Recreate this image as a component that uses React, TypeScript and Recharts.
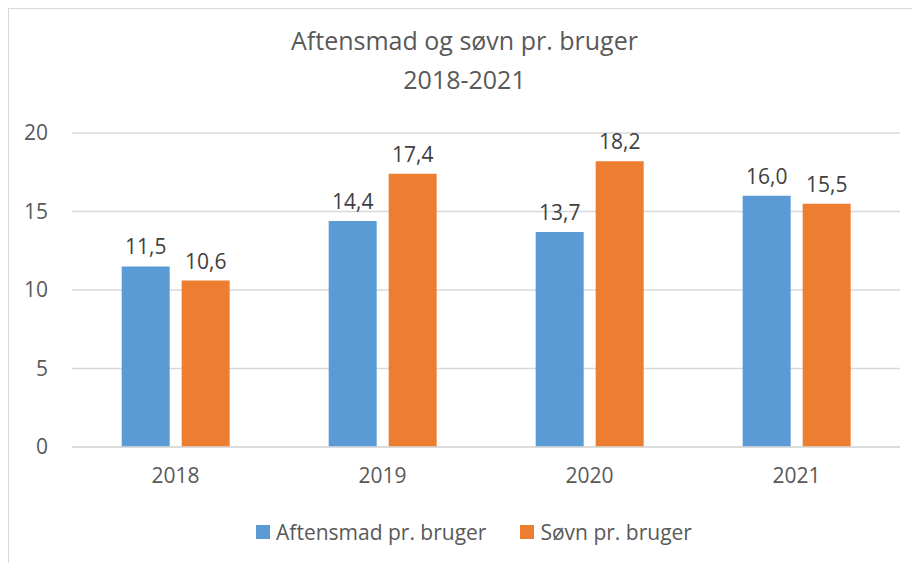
import { BarChart, Bar, XAxis, YAxis, CartesianGrid, Legend, LabelList } from "recharts";

const years = ["2018", "2019", "2020", "2021"];
const aftensmad = [11.5, 14.4, 13.7, 16.0];
const soevn = [10.6, 17.4, 18.2, 15.5];
const yTicks = [0, 5, 10, 15, 20];

const BLUE = "#5B9BD5";
const ORANGE = "#ED7D31";
const TEXT = "#595959";
const FONT = "'Open Sans', sans-serif";

const data = years.map((y, i) => ({ year: y, aftensmad: aftensmad[i], soevn: soevn[i] }));

const fmt = (v: number) => v.toFixed(1).replace(".", ",");

const legendItems = [
  { label: "Aftensmad pr. bruger", color: BLUE },
  { label: "Søvn pr. bruger", color: ORANGE },
];

function LegendContent() {
  return (
    <div
      style={{
        display: "flex",
        justifyContent: "center",
        gap: 34,
        marginTop: 11,
        paddingLeft: 36,
        fontFamily: FONT,
        fontSize: 21,
        color: TEXT,
      }}
    >
      {legendItems.map((it) => (
        <div key={it.label} style={{ display: "flex", alignItems: "center" }}>
          <span style={{ width: 14, height: 14, background: it.color, marginRight: 6, display: "inline-block" }} />
          <span>{it.label}</span>
        </div>
      ))}
    </div>
  );
}

export default function App() {
  return (
    <div
      style={{
        position: "relative",
        width: 911,
        height: 554,
        borderLeft: "1px solid #d9d9d9",
        borderTop: "1px solid #d9d9d9",
        background: "#fff",
        fontFamily: FONT,
      }}
    >
      <div
        style={{
          position: "absolute",
          top: 12,
          left: 0,
          width: 911,
          textAlign: "center",
          color: TEXT,
          fontSize: 25,
          lineHeight: "39px",
        }}
      >
        Aftensmad og søvn pr. bruger
        <br />
        2018-2021
      </div>
      <BarChart
        width={911}
        height={554}
        data={data}
        margin={{ top: 124, right: 20, left: 3, bottom: 0 }}
        barCategoryGap="24%"
        barGap={12}
      >
        <CartesianGrid vertical={false} stroke="#d9d9d9" strokeWidth={1.5} />
        <XAxis
          dataKey="year"
          axisLine={{ stroke: "#d9d9d9", strokeWidth: 1.5 }}
          tickLine={false}
          tickMargin={15}
          height={60}
          tick={{ fill: TEXT, fontSize: 21, fontFamily: FONT }}
        />
        <YAxis
          width={60}
          domain={[0, 20]}
          ticks={yTicks}
          axisLine={false}
          tickLine={false}
          tickMargin={18}
          tick={{ fill: TEXT, fontSize: 21, fontFamily: FONT }}
        />
        <Legend verticalAlign="bottom" height={56} content={LegendContent} />
        <Bar dataKey="aftensmad" name="Aftensmad pr. bruger" fill={BLUE} isAnimationActive={false}>
          <LabelList dataKey="aftensmad" position="top" offset={12} formatter={(v: number) => fmt(v)} fill="#404040" fontSize={21} fontFamily={FONT} />
        </Bar>
        <Bar dataKey="soevn" name="Søvn pr. bruger" fill={ORANGE} isAnimationActive={false}>
          <LabelList dataKey="soevn" position="top" offset={12} formatter={(v: number) => fmt(v)} fill="#404040" fontSize={21} fontFamily={FONT} />
        </Bar>
      </BarChart>
    </div>
  );
}
